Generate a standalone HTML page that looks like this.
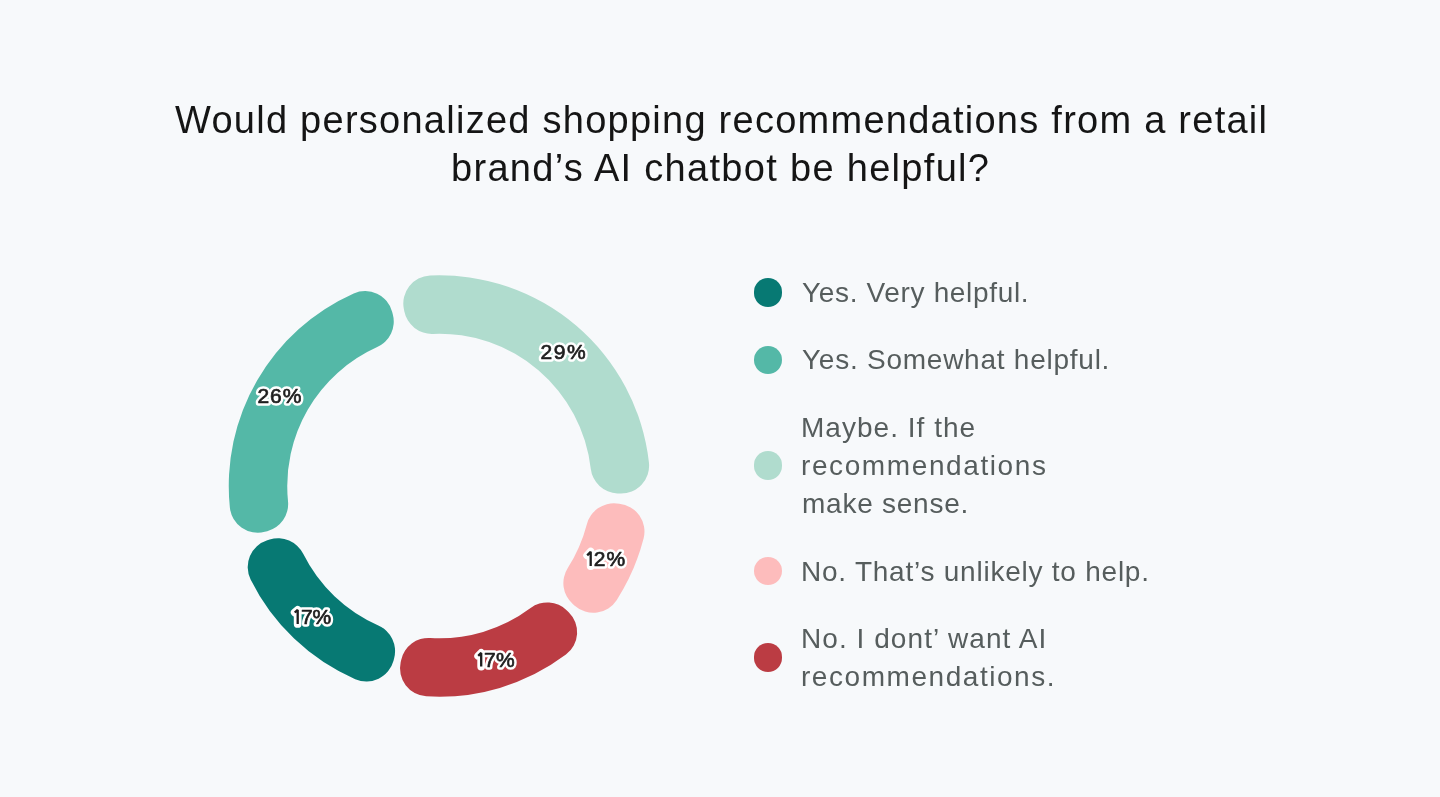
<!DOCTYPE html>
<html><head><meta charset="utf-8">
<style>
html,body{margin:0;padding:0;}
body{width:1440px;height:797px;background:#f7f9fb;position:relative;overflow:hidden;font-family:"Liberation Sans",sans-serif;}
.t,.l{position:absolute;white-space:nowrap;line-height:1;}
.t{font-size:38px;color:#151515;}
.l{font-size:28px;color:#565d5d;}
.dot{position:absolute;width:28.2px;height:28.2px;border-radius:50%;}
svg{position:absolute;left:0;top:0;will-change:transform;}
.t,.l{will-change:transform;}
svg text{font-family:"Liberation Sans",sans-serif;font-size:21px;font-weight:normal;stroke-linejoin:round;}
svg text.halo{fill:#fff;stroke:#fff;stroke-width:5.5px;}
svg text.fg{fill:#1e1e1e;stroke:#1e1e1e;stroke-width:0.7px;}
</style></head><body>
<svg width="1440" height="797" viewBox="0 0 1440 797">
<path d="M403.85,308.96 A28.0,28.0 0 0 1 430.04,275.46 A210.75,210.75 0 0 1 648.93,462.47 A28.0,28.0 0 0 1 619.93,493.58 L617.41,493.47 A28.0,28.0 0 0 1 590.76,468.68 A152.25,152.25 0 0 0 433.00,333.89 A28.0,28.0 0 0 1 404.35,311.44 Z" fill="#b0dcce"/>
<path d="M619.22,503.72 A28.0,28.0 0 0 1 643.59,538.57 A210.75,210.75 0 0 1 616.81,599.92 A28.0,28.0 0 0 1 574.68,605.75 L572.79,604.07 A28.0,28.0 0 0 1 567.77,568.02 A152.25,152.25 0 0 0 586.86,524.29 A28.0,28.0 0 0 1 616.70,503.47 Z" fill="#fdbcbc"/>
<path d="M568.70,612.17 A28.0,28.0 0 0 1 565.94,654.61 A210.75,210.75 0 0 1 426.24,696.33 A28.0,28.0 0 0 1 400.66,662.37 L401.20,659.89 A28.0,28.0 0 0 1 430.25,637.97 A152.25,152.25 0 0 0 530.58,608.00 A28.0,28.0 0 0 1 566.89,610.41 Z" fill="#bb3c43"/>
<path d="M393.51,660.64 A28.0,28.0 0 0 1 355.23,679.17 A210.75,210.75 0 0 1 250.61,579.47 A28.0,28.0 0 0 1 267.28,540.35 L269.69,539.59 A28.0,28.0 0 0 1 303.19,553.82 A152.25,152.25 0 0 0 378.32,625.42 A28.0,28.0 0 0 1 394.15,658.19 Z" fill="#077973"/>
<path d="M264.81,531.78 A28.0,28.0 0 0 1 229.86,507.56 A210.75,210.75 0 0 1 353.70,293.51 A28.0,28.0 0 0 1 392.12,311.73 L392.78,314.18 A28.0,28.0 0 0 1 377.22,347.07 A152.25,152.25 0 0 0 288.02,501.25 A28.0,28.0 0 0 1 267.26,531.14 Z" fill="#54b8a7"/>

<text class="halo" x="540.5" y="358.75" style="letter-spacing:1.55px">29%</text>
<path d="M587.20,555.40 L590.70,551.70 L590.70,566.10" fill="none" stroke="#fff" stroke-width="7.8" stroke-linejoin="round" stroke-linecap="round"/><text class="halo" x="593.8" y="566.1" style="letter-spacing:1.1px">2%</text>
<path d="M478.20,655.90 L481.20,652.90 L481.20,666.60" fill="none" stroke="#fff" stroke-width="7.8" stroke-linejoin="round" stroke-linecap="round"/><text class="halo" x="484.1" y="666.6" style="letter-spacing:0.3px">7%</text>
<path d="M294.70,612.50 L297.70,609.90 L297.70,623.90" fill="none" stroke="#fff" stroke-width="7.8" stroke-linejoin="round" stroke-linecap="round"/><text class="halo" x="301.0" y="623.9" style="letter-spacing:-0.3px">7%</text>
<text class="halo" x="257.6" y="403.0" style="letter-spacing:0.85px">26%</text>
<text class="fg" x="540.5" y="358.75" style="letter-spacing:1.55px">29%</text>
<path d="M587.20,555.40 L590.70,551.70 L590.70,566.10" fill="none" stroke="#1e1e1e" stroke-width="2.3" stroke-linejoin="miter" stroke-miterlimit="2" stroke-linecap="butt"/><text class="fg" x="593.8" y="566.1" style="letter-spacing:1.1px">2%</text>
<path d="M478.20,655.90 L481.20,652.90 L481.20,666.60" fill="none" stroke="#1e1e1e" stroke-width="2.3" stroke-linejoin="miter" stroke-miterlimit="2" stroke-linecap="butt"/><text class="fg" x="484.1" y="666.6" style="letter-spacing:0.3px">7%</text>
<path d="M294.70,612.50 L297.70,609.90 L297.70,623.90" fill="none" stroke="#1e1e1e" stroke-width="2.3" stroke-linejoin="miter" stroke-miterlimit="2" stroke-linecap="butt"/><text class="fg" x="301.0" y="623.9" style="letter-spacing:-0.3px">7%</text>
<text class="fg" x="257.6" y="403.0" style="letter-spacing:0.85px">26%</text>

</svg>
<div class="t" style="left:175.20px;top:100.93px;letter-spacing:1.257px">Would personalized shopping recommendations from a retail</div>
<div class="t" style="left:451.30px;top:148.93px;letter-spacing:1.31px">brand’s AI chatbot be helpful?</div>
<div class="l" style="left:801.80px;top:279.10px;letter-spacing:0.659px">Yes. Very helpful.</div>
<div class="l" style="left:802.00px;top:346.40px;letter-spacing:0.752px">Yes. Somewhat helpful.</div>
<div class="l" style="left:800.80px;top:413.70px;letter-spacing:1.025px">Maybe. If the</div>
<div class="l" style="left:801.30px;top:452.05px;letter-spacing:1.6px">recommendations</div>
<div class="l" style="left:801.60px;top:490.40px;letter-spacing:0.75px">make sense.</div>
<div class="l" style="left:800.70px;top:557.70px;letter-spacing:0.763px">No. That’s unlikely to help.</div>
<div class="l" style="left:800.70px;top:624.90px;letter-spacing:1.056px">No. I dont’ want AI</div>
<div class="l" style="left:801.30px;top:663.25px;letter-spacing:1.547px">recommendations.</div>
<div class="dot" style="top:278.45px;left:753.95px;background:#077973"></div>
<div class="dot" style="top:345.60px;left:753.95px;background:#54b8a7"></div>
<div class="dot" style="top:451.35px;left:753.95px;background:#b0dcce"></div>
<div class="dot" style="top:556.85px;left:753.95px;background:#fdbcbc"></div>
<div class="dot" style="top:643.35px;left:753.95px;background:#bb3c43"></div>

</body></html>
